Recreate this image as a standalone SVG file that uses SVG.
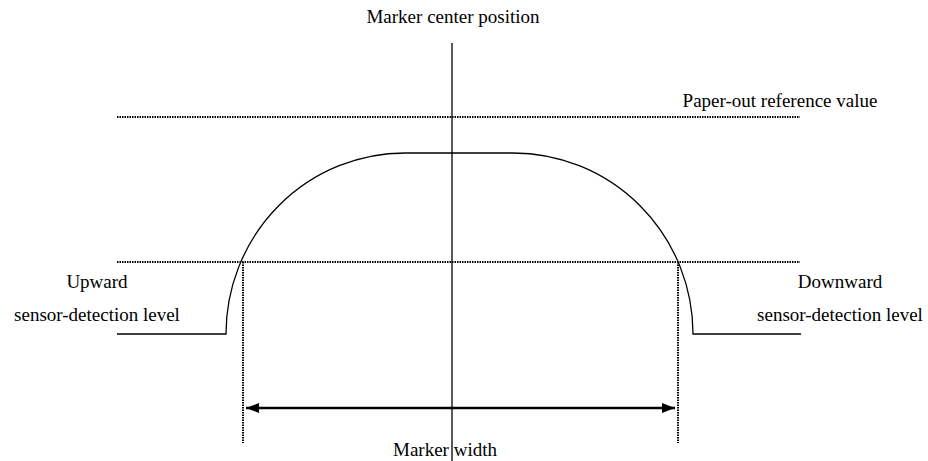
<svg xmlns="http://www.w3.org/2000/svg" width="928" height="461" viewBox="0 0 928 461">
<style>
.dot{stroke:#000;stroke-width:2;stroke-dasharray:1.5 1;fill:none}
.solid{stroke:#000;stroke-width:1.3;fill:none}
</style>
<defs>
<marker id="ah" viewBox="0 0 13 10" refX="13" refY="5" markerWidth="13" markerHeight="10" markerUnits="userSpaceOnUse" orient="auto-start-reverse">
<path d="M0,0 L13,5 L0,10 Z" fill="#000"/>
</marker>
</defs>
<rect width="928" height="461" fill="#fff"/>
<g id="reference-lines">
<line class="dot" x1="117" y1="117" x2="800" y2="117"/>
<line class="dot" x1="117" y1="262" x2="800" y2="262"/>
<line class="dot" x1="243" y1="262" x2="243" y2="443"/>
<line class="dot" x1="678" y1="262" x2="678" y2="443"/>
</g>
<g id="center-line">
<line class="solid" x1="452" y1="43" x2="452" y2="461"/>
</g>
<g id="sensor-curve">
<path class="solid" d="M117,334 H226 A179,181 0 0 1 405,153 H513 A180,181 0 0 1 693,334 H801"/>
</g>
<g id="connectors">
<line x1="246" y1="408" x2="675" y2="408" stroke="#000" stroke-width="2.6" marker-start="url(#ah)" marker-end="url(#ah)"/>
</g>
<g id="labels" font-family="'Liberation Serif', 'Times New Roman', serif" font-size="19" fill="#000">
<text x="453" y="23" text-anchor="middle">Marker center position</text>
<text x="780" y="107" text-anchor="middle">Paper-out reference value</text>
<text x="97" y="288" text-anchor="middle">Upward</text>
<text x="97" y="321" text-anchor="middle">sensor-detection level</text>
<text x="840" y="288" text-anchor="middle">Downward</text>
<text x="840" y="321" text-anchor="middle">sensor-detection level</text>
<text x="445" y="456" text-anchor="middle">Marker width</text>
</g>
</svg>
